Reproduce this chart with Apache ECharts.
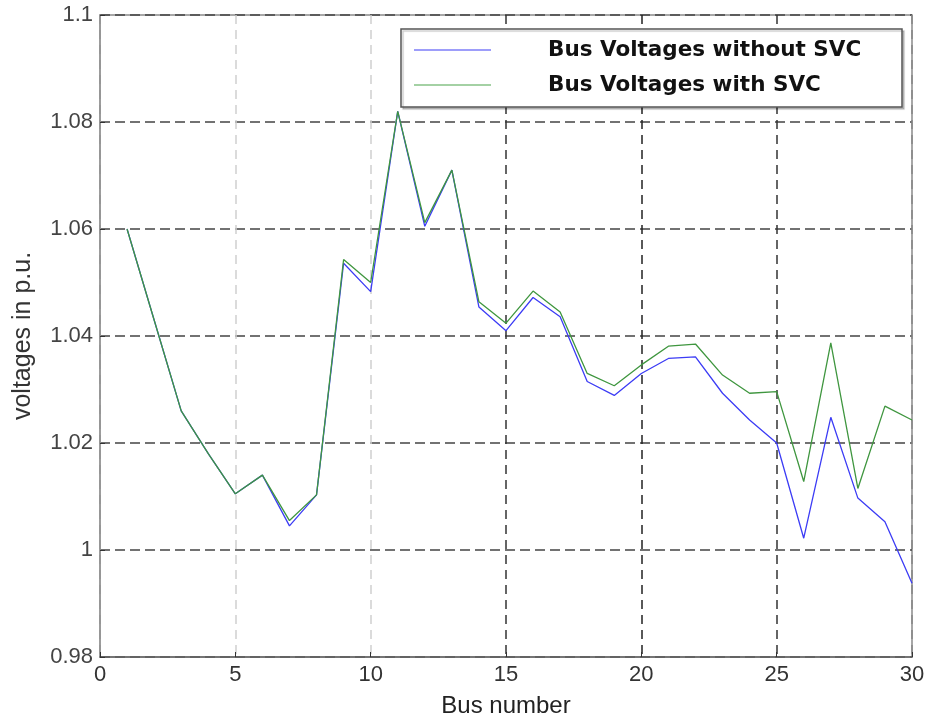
<!DOCTYPE html>
<html>
<head>
<meta charset="utf-8">
<script src="https://cdn.jsdelivr.net/npm/echarts@6/dist/echarts.min.js"></script>
<style>
  html, body { margin: 0; padding: 0; background: #fff; }
  #chart { width: 925px; height: 721px; }
</style>
</head>
<body>
<div id="chart"></div>
<script>
// bus numbers 1..30
var buses = [1,2,3,4,5,6,7,8,9,10,11,12,13,14,15,16,17,18,19,20,21,22,23,24,25,26,27,28,29,30];

var withoutSVC = [1.060, 1.043, 1.026, 1.018, 1.0105, 1.014, 1.0045, 1.0103, 1.0536, 1.0483,
                  1.082, 1.0605, 1.071, 1.0454, 1.041, 1.0472, 1.0436, 1.0315, 1.0289, 1.033,
                  1.0358, 1.0361, 1.0293, 1.0243, 1.020, 1.0022, 1.0248, 1.0097, 1.0053, 0.9938];

var withSVC = [1.060, 1.043, 1.026, 1.018, 1.0105, 1.014, 1.0055, 1.0103, 1.0543, 1.050,
               1.082, 1.0612, 1.071, 1.0464, 1.0424, 1.0484, 1.0445, 1.033, 1.0307, 1.0346,
               1.0381, 1.0385, 1.0327, 1.0293, 1.0296, 1.0128, 1.0387, 1.0115, 1.0269, 1.0243];

var seriesNames = ['Bus Voltages without SVC', 'Bus Voltages with SVC'];

function pairs(vals) {
  return buses.map(function (b, i) { return [b, vals[i]]; });
}

var chart = echarts.init(document.getElementById('chart'));
chart.setOption({
  animation: false,
  backgroundColor: '#fff',
  grid: {
    left: 100,
    right: 13,
    top: 15,
    bottom: 64,
    outerBoundsMode: 'none',
    show: true,
    borderColor: '#8a8a8a',
    borderWidth: 1.5
  },
  graphic: [{
    type: 'rect',
    z: 3,
    shape: { x: 401, y: 29, width: 501, height: 78 },
    style: { fill: '#fff', stroke: '#555', lineWidth: 1.5, shadowColor: 'rgba(0,0,0,0.2)', shadowOffsetX: 2, shadowOffsetY: 2, shadowBlur: 1 }
  }],
  legend: {
    z: 5,
    orient: 'vertical',
    left: 402,
    top: 39,
    padding: [0, 0, 0, 12],
    itemWidth: 77,
    itemHeight: 10,
    itemGap: 13,
    icon: 'path://M0,4.5 L77,4.5 L77,5.5 L0,5.5 Z',
    data: seriesNames,
    textStyle: {
      fontFamily: 'DejaVu Sans',
      fontWeight: 'bold',
      fontSize: 21.5,
      lineHeight: 22,
      color: '#111',
      padding: [0, 0, 0, 52]
    }
  },
  xAxis: {
    type: 'value',
    min: 0,
    max: 30,
    interval: 5,
    name: 'Bus number',
    nameLocation: 'middle',
    nameGap: 37,
    nameTextStyle: { fontFamily: 'Liberation Sans', fontSize: 24, color: '#222' },
    axisLine: { show: true, lineStyle: { color: '#666', width: 1.5 } },
    axisTick: { show: true, inside: true, length: 5, lineStyle: { color: '#333' } },
    axisLabel: { fontFamily: 'Liberation Sans', fontSize: 22, color: '#333', margin: 7 },
    splitLine: {
      show: true,
      lineStyle: {
        color: ['#888', '#cfcfcf', '#cfcfcf', '#333', '#222', '#333', '#888'],
        width: 1.5,
        type: [9, 6]
      }
    }
  },
  yAxis: {
    type: 'value',
    min: 0.98,
    max: 1.1,
    interval: 0.02,
    name: 'voltages in p.u.',
    nameLocation: 'middle',
    nameGap: 64,
    nameRotate: 90,
    nameTextStyle: { fontFamily: 'Liberation Sans', fontSize: 25, color: '#333' },
    axisLine: { show: true, lineStyle: { color: '#999', width: 1.5 } },
    axisTick: { show: true, inside: true, length: 5, lineStyle: { color: '#333' } },
    axisLabel: {
      fontFamily: 'Liberation Sans',
      fontSize: 22,
      color: '#444',
      margin: 7,
      formatter: function (v) { return String(+v.toFixed(2)); }
    },
    splitLine: {
      show: true,
      lineStyle: { color: '#444', width: 1.5, type: [10, 5] }
    }
  },
  series: [
    {
      name: seriesNames[0],
      type: 'line',
      symbol: 'none',
      data: pairs(withoutSVC),
      lineStyle: { color: '#3c3cf5', width: 1.3 },
      itemStyle: { color: '#3c3cf5' },
      z: 6
    },
    {
      name: seriesNames[1],
      type: 'line',
      symbol: 'none',
      data: pairs(withSVC),
      lineStyle: { color: '#3f963f', width: 1.3 },
      itemStyle: { color: '#4aa34a' },
      z: 7
    }
  ]
});
</script>
</body>
</html>
